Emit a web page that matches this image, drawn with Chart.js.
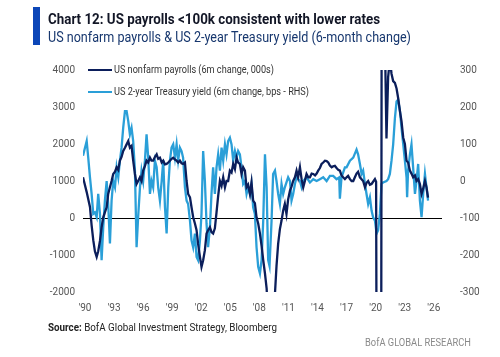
<!DOCTYPE html>
<html><head><meta charset="utf-8">
<script src="https://cdn.jsdelivr.net/npm/chart.js@4.4.1/dist/chart.umd.min.js"></script>
<style>
html,body{margin:0;padding:0;background:#fff;width:500px;height:357px;overflow:hidden;}
#wrap{position:relative;width:500px;height:357px;}
#c{position:absolute;left:0;top:0;}
.t{position:absolute;white-space:nowrap;transform-origin:0 0;font-family:Roboto,"Open Sans",sans-serif;line-height:1;}
.ln{position:absolute;height:2px;}
</style></head><body>
<div id="wrap">
<canvas id="c" width="500" height="357"></canvas>
<div style="position:absolute;left:33px;top:7px;width:7px;height:38px;background:#0c46b8"></div>
<div class="t fit" data-w="332" style="left:48px;top:12.2px;font-size:14px;font-weight:700;color:#121626">Chart 12: US payrolls &lt;100k consistent with lower rates</div>
<div class="t fit" data-w="363" style="left:48px;top:29.9px;font-size:14px;color:#17376e">US nonfarm payrolls &amp; US 2-year Treasury yield (6-month change)</div>
<div class="ln" id="lg1" style="left:88px;top:69px;width:24px;"></div>
<div class="t fit" id="lt1" data-w="160" style="left:114px;top:64.9px;font-size:10.5px;color:#333"></div>
<div class="ln" id="lg2" style="left:88px;top:91px;width:24px;"></div>
<div class="t fit" id="lt2" data-w="195" style="left:114px;top:86.9px;font-size:10.5px;color:#333"></div>
<div class="t fit" data-w="229" style="left:48px;top:321.5px;font-size:11.5px;color:#222"><b>Source:</b> BofA Global Investment Strategy, Bloomberg</div>
<div class="t fit" data-w="106" style="left:365px;top:337px;font-size:11.5px;color:#8a8a8a">BofA GLOBAL RESEARCH</div>
</div>
<script>
const DARK = '#0b1e5b';
const LIGHT = '#2a9fd8';

const payLabel = 'US nonfarm payrolls (6m change, 000s)';
const ustLabel = 'US 2-year Treasury yield (6m change, bps - RHS)';

const payYears = [1989.80,1990.18,1990.52,1990.69,1990.86,1991.03,1991.21,1991.37,1991.55,1991.72,1991.89,1992.06,1992.24,1992.40,1992.58,1992.75,1992.92,1993.10,1993.27,1993.44,1993.61,1993.78,1993.95,1994.13,1994.30,1994.47,1994.64,1994.81,1994.98,1995.16,1995.33,1995.49,1995.68,1995.84,1996.01,1996.19,1996.36,1996.53,1996.71,1996.87,1997.04,1997.22,1997.40,1997.56,1997.74,1997.92,1998.08,1998.26,1998.43,1998.60,1998.77,1998.94,1999.11,1999.29,1999.46,1999.62,1999.80,1999.97,2000.13,2000.32,2000.49,2000.65,2000.84,2001.00,2001.17,2001.35,2001.52,2001.68,2001.87,2002.03,2002.20,2002.38,2002.55,2002.71,2002.90,2003.06,2003.23,2003.41,2003.58,2003.75,2003.93,2004.10,2004.27,2004.45,2004.61,2004.78,2004.96,2005.13,2005.30,2005.48,2005.65,2005.81,2005.99,2006.16,2006.33,2006.51,2006.68,2006.84,2007.03,2007.19,2007.36,2007.54,2007.71,2007.88,2008.06,2008.23,2008.40,2008.58,2008.75,2008.91,2009.10,2009.30,2009.50,2009.61,2009.77,2009.94,2010.12,2010.29,2010.46,2010.63,2010.80,2010.97,2011.16,2011.32,2011.49,2011.67,2011.84,2012.00,2012.19,2012.36,2012.53,2012.70,2012.87,2013.05,2013.22,2013.40,2013.56,2013.75,2013.91,2014.07,2014.25,2014.42,2014.59,2014.77,2014.94,2015.11,2015.28,2015.46,2015.62,2015.79,2015.97,2016.14,2016.31,2016.48,2016.65,2016.83,2017.00,2017.16,2017.35,2017.52,2017.69,2017.86,2018.03,2018.19,2018.38,2018.55,2018.71,2018.90,2019.06,2019.23,2019.41,2019.58,2019.74,2019.93,2020.05,2020.15,2020.35,2020.55,2020.65,2020.85,2020.98,2021.12,2021.29,2021.47,2021.64,2021.81,2021.99,2022.16,2022.32,2022.51,2022.67,2022.85,2023.02,2023.19,2023.35,2023.54,2023.70,2023.87,2024.06,2024.22,2024.39,2024.57,2024.74,2024.91,2025.09,2025.25,2025.41];
const payValues = [1100,700,300,-200,-600,-900,-1050,-900,-620,-250,20,150,290,650,830,1000,1190,1250,1370,1300,1550,1650,1810,1900,1990,2080,1900,1950,1550,1190,920,1000,1100,1000,1280,1400,1550,1500,1630,1550,1550,1650,1720,1600,1630,1500,1550,1450,1460,1500,1550,1600,1630,1580,1550,1500,1550,1480,1460,1500,1000,650,560,290,20,-150,-330,-700,-1050,-1320,-1140,-870,-420,-330,-250,-380,-420,-280,150,600,1000,870,1100,830,1000,1000,1280,1230,1460,1320,1630,1500,1460,1190,1370,1280,830,900,650,960,470,400,20,-150,-420,-750,-1140,-1500,-1900,-2700,-3800,-3600,-2600,-2050,-1300,-700,-300,-70,200,380,110,500,740,850,1000,1100,1280,1100,1370,1050,830,1000,1190,1100,1100,1200,1190,1150,1200,1280,1350,1460,1500,1550,1540,1500,1420,1370,1400,1410,1350,1300,1280,1150,1100,1050,1100,1140,1050,1000,1000,1100,1200,1250,1100,1050,1000,830,950,1000,900,920,980,1050,980,-9000,-21000,-9000,11000,9000,4500,2150,3800,4300,3900,3700,3650,3500,3250,2890,2620,2170,2000,1550,1500,1280,1200,1100,1150,1000,1050,920,650,800,1000,830,550];

const ustYears = [1989.80,1990.18,1990.34,1990.52,1990.69,1990.86,1991.03,1991.21,1991.37,1991.55,1991.72,1991.89,1992.06,1992.24,1992.40,1992.58,1992.75,1992.92,1993.10,1993.27,1993.44,1993.61,1993.78,1993.95,1994.13,1994.30,1994.47,1994.64,1994.81,1994.98,1995.16,1995.33,1995.49,1995.68,1995.84,1996.01,1996.19,1996.36,1996.53,1996.71,1996.87,1997.04,1997.22,1997.40,1997.56,1997.74,1997.92,1998.08,1998.26,1998.43,1998.60,1998.77,1998.94,1999.11,1999.29,1999.46,1999.62,1999.80,1999.97,2000.13,2000.32,2000.49,2000.65,2000.84,2001.00,2001.17,2001.35,2001.52,2001.68,2001.87,2002.03,2002.20,2002.38,2002.55,2002.71,2002.90,2003.06,2003.23,2003.41,2003.58,2003.75,2003.93,2004.10,2004.27,2004.45,2004.61,2004.78,2004.96,2005.13,2005.30,2005.48,2005.65,2005.81,2005.99,2006.16,2006.33,2006.51,2006.68,2006.84,2007.03,2007.19,2007.36,2007.54,2007.71,2007.88,2008.06,2008.23,2008.40,2008.58,2008.75,2008.91,2009.05,2009.26,2009.42,2009.61,2009.77,2009.94,2010.12,2010.29,2010.46,2010.63,2010.97,2011.16,2011.32,2011.49,2011.67,2011.84,2012.19,2012.36,2012.53,2012.87,2013.22,2013.56,2013.91,2014.25,2014.59,2014.94,2015.28,2015.62,2015.97,2016.24,2016.31,2016.48,2016.83,2017.00,2017.35,2017.69,2018.03,2018.19,2018.38,2018.55,2018.71,2018.90,2019.06,2019.23,2019.41,2019.58,2019.74,2019.93,2020.10,2020.26,2020.44,2020.61,2020.77,2021.12,2021.29,2021.47,2021.64,2021.81,2021.99,2022.16,2022.32,2022.51,2022.67,2022.85,2023.02,2023.19,2023.25,2023.35,2023.54,2023.70,2023.87,2024.06,2024.22,2024.39,2024.57,2024.74,2024.91,2025.09,2025.25,2025.41];
const ustValues = [68,108,63,10,-35,-89,-85,-98,-35,-89,-214,-125,-53,0,-62,-169,-53,0,-17,37,10,55,90,144,189,189,162,126,144,108,28,-179,-98,-17,28,0,55,126,63,-35,0,-17,55,37,-17,-53,0,55,-71,-142,-17,55,90,99,63,99,55,90,81,63,-17,-53,-62,-107,-160,-179,-142,-205,-214,-160,-89,81,0,-116,-179,-125,-35,37,-35,37,72,28,90,55,99,72,108,117,99,55,81,63,81,72,37,-8,0,-35,-17,-35,-8,-71,-89,-179,-232,-250,-214,-107,72,-17,-214,-230,-107,19,28,0,-35,-62,-8,-35,-17,10,0,-53,-35,-8,10,0,-17,0,10,-4,5,0,5,10,0,14,14,5,10,-48,10,37,37,55,63,85,72,46,19,28,-8,-35,-62,-44,-80,-98,-107,-142,-133,-89,-8,-4,0,5,19,55,99,170,215,220,189,144,99,55,10,-44,28,72,99,37,-35,0,46,-53,-98,-35,19,-17,-53];

const tickYears = [1990,1993,1996,1999,2002,2005,2008,2011,2014,2017,2020,2023,2026];
const tickLabels = ["'90","'93","'96","'99","'02","'05","'08","'11","'14","'17","'20","'23","'26"];
const leftTicks = [-2000,-1000,0,1000,2000,3000,4000];
const rightTicks = [-300,-200,-100,0,100,200,300];

document.getElementById('lt1').textContent = payLabel;
document.getElementById('lt2').textContent = ustLabel;
document.getElementById('lg1').style.background = DARK;
document.getElementById('lg2').style.background = LIGHT;

document.querySelectorAll('.fit').forEach(el => {
  const nat = el.getBoundingClientRect().width;
  const w = parseFloat(el.dataset.w);
  if (nat > 0) el.style.transform = 'scaleX(' + (w / nat) + ')';
});

const tickFont = {family: 'Roboto, "Open Sans", sans-serif', size: 10};

new Chart(document.getElementById('c'), {
  type: 'line',
  data: {
    datasets: [
      {label: payLabel, data: payYears.map((x, i) => ({x: x, y: payValues[i]})), yAxisID: 'y',
       borderColor: DARK, borderWidth: 2.3, pointRadius: 0, tension: 0, clip: 0},
      {label: ustLabel, data: ustYears.map((x, i) => ({x: x, y: ustValues[i]})), yAxisID: 'y1',
       borderColor: LIGHT, borderWidth: 2.3, pointRadius: 0, tension: 0, clip: 0}
    ]
  },
  options: {
    responsive: false, animation: false, devicePixelRatio: 1,
    layout: {padding: {top: 70, left: 0, right: 0, bottom: 0}},
    plugins: {legend: {display: false}, tooltip: {enabled: false}},
    scales: {
      x: {type: 'linear', min: 1989.8, max: 2026.85,
          grid: {display: false}, border: {display: false},
          afterBuildTicks: s => { s.ticks = tickYears.map(v => ({value: v})); },
          ticks: {autoSkip: false, maxRotation: 0, padding: 2, color: '#555', font: tickFont,
                  callback: v => tickLabels[tickYears.indexOf(v)]},
          afterFit: s => { s.height = 65; }},
      y: {position: 'left', min: -2000, max: 4000,
          afterBuildTicks: s => { s.ticks = leftTicks.map(v => ({value: v})); },
          grid: {drawTicks: false, lineWidth: 1, color: c => (c.tick && c.tick.value === 0) ? '#000' : 'rgba(0,0,0,0)'},
          border: {display: false},
          ticks: {padding: 8, color: '#555', font: tickFont, callback: v => String(v)},
          afterFit: s => { s.width = 83; }},
      y1: {position: 'right', min: -300, max: 300,
          afterBuildTicks: s => { s.ticks = rightTicks.map(v => ({value: v})); },
          grid: {display: false}, border: {display: false},
          ticks: {padding: 10, color: '#555', font: tickFont, callback: v => String(v)},
          afterFit: s => { s.width = 58; }}
    }
  }
});
</script>
</body></html>
